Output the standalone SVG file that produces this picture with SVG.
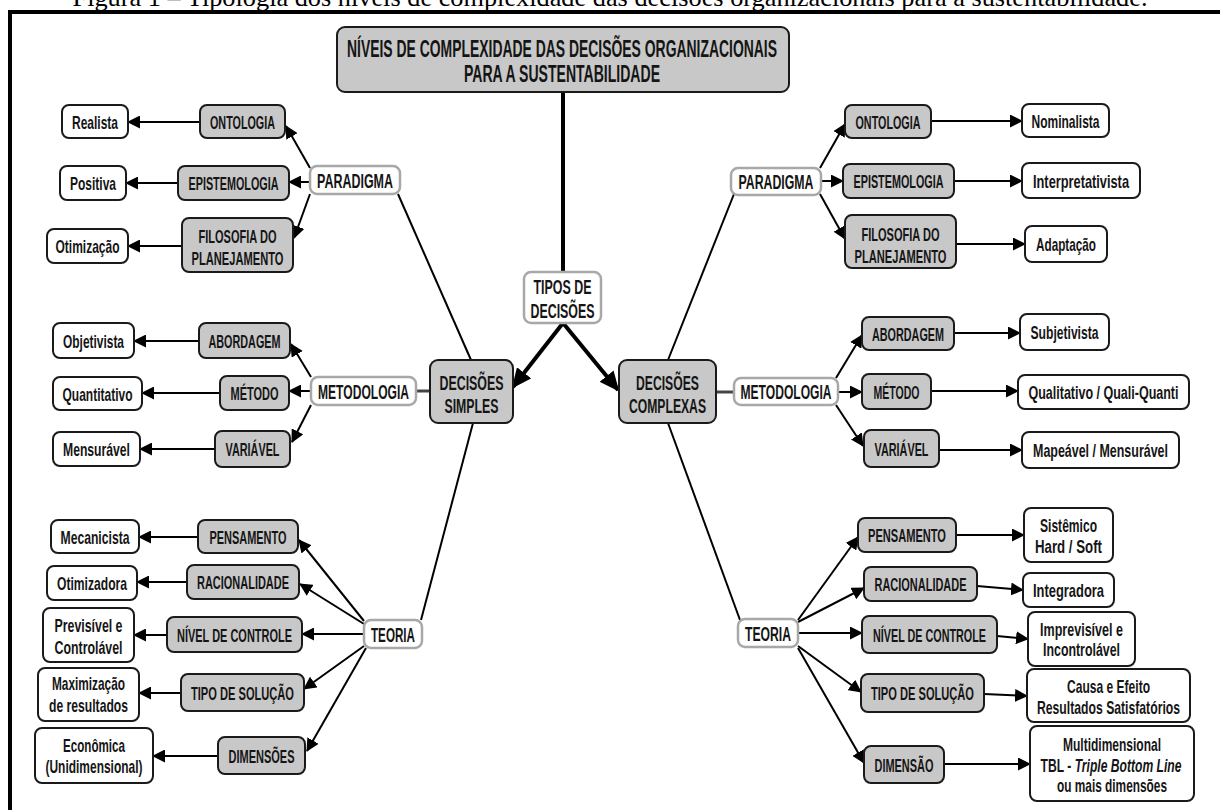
<svg xmlns="http://www.w3.org/2000/svg" width="1220" height="810" viewBox="0 0 1220 810">
<defs>
<style>
.gray{fill:#c8c8c8;stroke:#1a1a1a;stroke-width:2}
.leaf{fill:#ffffff;stroke:#1a1a1a;stroke-width:2}
.hub{fill:#ffffff;stroke:#a8a8a8;stroke-width:2.5}
text{font-family:"Liberation Sans Narrow","Liberation Sans","DejaVu Sans Condensed",sans-serif;font-weight:bold;fill:#151515;text-anchor:middle}
.t{font-size:19px}
.tl{font-size:21px}
.tt{font-size:24px}
.cap{font-family:"Liberation Serif","Times New Roman",serif;font-weight:normal;font-size:26px;fill:#000}
.ln{stroke:#000;stroke-width:2;fill:none}
.ar{stroke:#000;stroke-width:2;fill:none;marker-end:url(#ah)}
.thick{stroke:#000;stroke-width:4;fill:none}
.tar{stroke:#000;stroke-width:4;fill:none;marker-end:url(#ahb)}
.con{stroke:#444;stroke-width:3;fill:none}
</style>
<marker id="ah" markerUnits="userSpaceOnUse" markerWidth="13" markerHeight="13" refX="12" refY="6.5" orient="auto"><path d="M0,0 L13,6.5 L0,13 z" fill="#000"/></marker>
<marker id="ahb" markerUnits="userSpaceOnUse" markerWidth="20" markerHeight="18" refX="18" refY="9" orient="auto"><path d="M0,0 L20,9 L0,18 z" fill="#000"/></marker>
</defs>
<rect x="0" y="0" width="1220" height="810" fill="#fff"/>
<text class="cap" x="610" y="6" textLength="1075" lengthAdjust="spacingAndGlyphs">Figura 1 – Tipologia dos níveis de complexidade das decisões organizacionais para a sustentabilidade.</text>
<g id="frame">
<path d="M8,12 L1220,12" stroke="#000" stroke-width="4"/>
<path d="M10,10 L10,810" stroke="#000" stroke-width="4"/>
</g>

<g id="connectors">
<path class="thick" d="M563,92 L563,272"/>
<path class="tar" d="M563,323 L513,387"/>
<path class="tar" d="M563,323 L618,390"/>
<path class="ln" d="M398,194 L471,360"/>
<path class="ln" d="M473,423 L421,620"/>
<path class="ln" d="M734,194 L668,360"/>
<path class="ln" d="M668,423 L740,620"/>
<path class="con" d="M416,391 L430,391"/>
<path class="con" d="M716,392 L734,392"/>
<path class="ar" d="M310,168 L286,126"/>
<path class="ar" d="M310,182 L289,182"/>
<path class="ar" d="M310,194 L294,238"/>
<path class="ar" d="M200,122 L128,122"/>
<path class="ar" d="M178,183 L126,183"/>
<path class="ar" d="M182,246 L128,246"/>
<path class="ar" d="M820,168 L845,124"/>
<path class="ar" d="M821,181 L843,181"/>
<path class="ar" d="M820,194 L845,239"/>
<path class="ar" d="M931,121 L1022,121"/>
<path class="ar" d="M954,181 L1022,181"/>
<path class="ar" d="M956,244 L1025,244"/>
<path class="ar" d="M311,377 L291,344"/>
<path class="ar" d="M311,391 L289,391"/>
<path class="ar" d="M311,405 L292,442"/>
<path class="ar" d="M199,341 L134,341"/>
<path class="ar" d="M220,393 L142,393"/>
<path class="ar" d="M215,449 L140,449"/>
<path class="ar" d="M836,378 L862,335"/>
<path class="ar" d="M838,392 L862,392"/>
<path class="ar" d="M836,405 L863,446"/>
<path class="ar" d="M954,333 L1020,333"/>
<path class="ar" d="M931,391 L1018,391"/>
<path class="ar" d="M939,450 L1022,450"/>
<path class="ar" d="M364,621 L299,540"/>
<path class="ar" d="M364,624 L300,584"/>
<path class="ar" d="M364,634 L302,634"/>
<path class="ar" d="M364,646 L304,689"/>
<path class="ar" d="M366,648 L307,751"/>
<path class="ar" d="M198,537 L139,537"/>
<path class="ar" d="M187,582 L137,582"/>
<path class="ar" d="M167,635 L134,635"/>
<path class="ar" d="M181,693 L139,693"/>
<path class="ar" d="M218,756 L153,756"/>
<path class="ar" d="M798,620 L858,537"/>
<path class="ar" d="M798,622 L864,588"/>
<path class="ar" d="M798,633 L862,633"/>
<path class="ar" d="M798,646 L861,692"/>
<path class="ar" d="M798,648 L864,763"/>
<path class="ar" d="M956,535 L1024,535"/>
<path class="ar" d="M977,586 L1023,590"/>
<path class="ar" d="M997,636 L1028,639"/>
<path class="ar" d="M984,694 L1027,696"/>
<path class="ar" d="M944,764 L1030,764"/>
</g>

<g id="title"><rect class="gray" x="337" y="27" width="452" height="65" rx="8"/>
<text class="tt" x="562" y="57" textLength="430" lengthAdjust="spacingAndGlyphs">NÍVEIS DE COMPLEXIDADE DAS DECISÕES ORGANIZACIONAIS</text>
<text class="tt" x="562" y="82" textLength="196" lengthAdjust="spacingAndGlyphs">PARA A SUSTENTABILIDADE</text></g>

<g id="tipos"><rect class="hub" x="524" y="272" width="77" height="51" rx="7"/>
<text class="tl" x="562.5" y="294" textLength="58" lengthAdjust="spacingAndGlyphs">TIPOS DE</text>
<text class="tl" x="562.5" y="318" textLength="64" lengthAdjust="spacingAndGlyphs">DECISÕES</text></g>

<g id="dec-simples"><rect class="gray" x="430" y="360" width="83" height="63" rx="8"/>
<text class="tl" x="471.5" y="390" textLength="64" lengthAdjust="spacingAndGlyphs">DECISÕES</text>
<text class="tl" x="471.5" y="413" textLength="54" lengthAdjust="spacingAndGlyphs">SIMPLES</text></g>

<g id="dec-complexas"><rect class="gray" x="619" y="360" width="97" height="63" rx="8"/>
<text class="tl" x="667.5" y="390" textLength="63" lengthAdjust="spacingAndGlyphs">DECISÕES</text>
<text class="tl" x="667.5" y="413" textLength="77" lengthAdjust="spacingAndGlyphs">COMPLEXAS</text></g>

<g id="paradigma-l"><rect class="hub" x="310" y="166" width="90" height="28" rx="7"/>
<text class="tl" x="355" y="187.5" textLength="76" lengthAdjust="spacingAndGlyphs">PARADIGMA</text></g>
<g id="ontologia-l"><rect class="gray" x="200" y="105" width="85" height="33" rx="7"/>
<text class="t" x="242.5" y="128.5" textLength="65" lengthAdjust="spacingAndGlyphs">ONTOLOGIA</text></g>
<g id="realista"><rect class="leaf" x="62" y="105" width="66" height="33" rx="7"/>
<text class="t" x="95" y="128.5" textLength="46" lengthAdjust="spacingAndGlyphs">Realista</text></g>
<g id="epistemologia-l"><rect class="gray" x="178" y="166" width="111" height="34" rx="7"/>
<text class="t" x="233.5" y="190" textLength="90" lengthAdjust="spacingAndGlyphs">EPISTEMOLOGIA</text></g>
<g id="positiva"><rect class="leaf" x="60" y="166" width="66" height="34" rx="7"/>
<text class="t" x="93" y="190" textLength="46" lengthAdjust="spacingAndGlyphs">Positiva</text></g>
<g id="filosofia-l"><rect class="gray" x="182" y="218" width="111" height="54" rx="7"/>
<text class="t" x="237.5" y="242.5" textLength="78" lengthAdjust="spacingAndGlyphs">FILOSOFIA DO</text>
<text class="t" x="237.5" y="264.5" textLength="92" lengthAdjust="spacingAndGlyphs">PLANEJAMENTO</text></g>
<g id="otimizacao"><rect class="leaf" x="47" y="229" width="81" height="34" rx="7"/>
<text class="t" x="87.5" y="253" textLength="64" lengthAdjust="spacingAndGlyphs">Otimização</text></g>

<g id="paradigma-r"><rect class="hub" x="731" y="168" width="90" height="27" rx="7"/>
<text class="tl" x="776" y="188.5" textLength="75" lengthAdjust="spacingAndGlyphs">PARADIGMA</text></g>
<g id="ontologia-r"><rect class="gray" x="845" y="105" width="86" height="33" rx="7"/>
<text class="t" x="888" y="128.5" textLength="65" lengthAdjust="spacingAndGlyphs">ONTOLOGIA</text></g>
<g id="nominalista"><rect class="leaf" x="1022" y="104" width="87" height="33" rx="7"/>
<text class="t" x="1065.5" y="127.5" textLength="68" lengthAdjust="spacingAndGlyphs">Nominalista</text></g>
<g id="epistemologia-r"><rect class="gray" x="843" y="164" width="111" height="34" rx="7"/>
<text class="t" x="898.5" y="188" textLength="90" lengthAdjust="spacingAndGlyphs">EPISTEMOLOGIA</text></g>
<g id="interpretativista"><rect class="leaf" x="1022" y="163" width="118" height="35" rx="7"/>
<text class="t" x="1081" y="187.5" textLength="96" lengthAdjust="spacingAndGlyphs">Interpretativista</text></g>
<g id="filosofia-r"><rect class="gray" x="845" y="215" width="111" height="53" rx="7"/>
<text class="t" x="900.5" y="240.5" textLength="78" lengthAdjust="spacingAndGlyphs">FILOSOFIA DO</text>
<text class="t" x="900.5" y="262.5" textLength="92" lengthAdjust="spacingAndGlyphs">PLANEJAMENTO</text></g>
<g id="adaptacao"><rect class="leaf" x="1025" y="226" width="82" height="36" rx="7"/>
<text class="t" x="1066" y="251" textLength="60" lengthAdjust="spacingAndGlyphs">Adaptação</text></g>

<g id="metodologia-l"><rect class="hub" x="311" y="377" width="105" height="28" rx="7"/>
<text class="tl" x="363.5" y="398.5" textLength="91" lengthAdjust="spacingAndGlyphs">METODOLOGIA</text></g>
<g id="abordagem-l"><rect class="gray" x="199" y="323" width="91" height="35" rx="7"/>
<text class="t" x="244.5" y="347.5" textLength="72" lengthAdjust="spacingAndGlyphs">ABORDAGEM</text></g>
<g id="objetivista"><rect class="leaf" x="53" y="323" width="81" height="35" rx="7"/>
<text class="t" x="93.5" y="347.5" textLength="61" lengthAdjust="spacingAndGlyphs">Objetivista</text></g>
<g id="metodo-l"><rect class="gray" x="220" y="376" width="69" height="34" rx="7"/>
<text class="t" x="254.5" y="400" textLength="48" lengthAdjust="spacingAndGlyphs">MÉTODO</text></g>
<g id="quantitativo"><rect class="leaf" x="53" y="377" width="89" height="33" rx="7"/>
<text class="t" x="97.5" y="400.5" textLength="70" lengthAdjust="spacingAndGlyphs">Quantitativo</text></g>
<g id="variavel-l"><rect class="gray" x="215" y="431" width="75" height="36" rx="7"/>
<text class="t" x="252.5" y="456" textLength="54" lengthAdjust="spacingAndGlyphs">VARIÁVEL</text></g>
<g id="mensuravel"><rect class="leaf" x="53" y="432" width="87" height="34" rx="7"/>
<text class="t" x="96.5" y="456" textLength="67" lengthAdjust="spacingAndGlyphs">Mensurável</text></g>

<g id="metodologia-r"><rect class="hub" x="734" y="378" width="104" height="27" rx="7"/>
<text class="tl" x="786" y="399" textLength="91" lengthAdjust="spacingAndGlyphs">METODOLOGIA</text></g>
<g id="abordagem-r"><rect class="gray" x="862" y="317" width="92" height="33" rx="7"/>
<text class="t" x="908" y="340.5" textLength="72" lengthAdjust="spacingAndGlyphs">ABORDAGEM</text></g>
<g id="subjetivista"><rect class="leaf" x="1020" y="314" width="89" height="36" rx="7"/>
<text class="t" x="1064.5" y="339" textLength="68" lengthAdjust="spacingAndGlyphs">Subjetivista</text></g>
<g id="metodo-r"><rect class="gray" x="862" y="374" width="69" height="35" rx="7"/>
<text class="t" x="896.5" y="398.5" textLength="46" lengthAdjust="spacingAndGlyphs">MÉTODO</text></g>
<g id="qualitativo"><rect class="leaf" x="1018" y="375" width="171" height="34" rx="7"/>
<text class="t" x="1103.5" y="399" textLength="150" lengthAdjust="spacingAndGlyphs">Qualitativo / Quali-Quanti</text></g>
<g id="variavel-r"><rect class="gray" x="864" y="430" width="75" height="37" rx="7"/>
<text class="t" x="901.5" y="455.5" textLength="54" lengthAdjust="spacingAndGlyphs">VARIÁVEL</text></g>
<g id="mapeavel"><rect class="leaf" x="1022" y="432" width="157" height="36" rx="7"/>
<text class="t" x="1100.5" y="457" textLength="135" lengthAdjust="spacingAndGlyphs">Mapeável / Mensurável</text></g>

<g id="teoria-l"><rect class="hub" x="364" y="620" width="58" height="28" rx="7"/>
<text class="tl" x="393" y="641.5" textLength="44" lengthAdjust="spacingAndGlyphs">TEORIA</text></g>
<g id="pensamento-l"><rect class="gray" x="198" y="520" width="100" height="33" rx="7"/>
<text class="t" x="248" y="543.5" textLength="77" lengthAdjust="spacingAndGlyphs">PENSAMENTO</text></g>
<g id="mecanicista"><rect class="leaf" x="51" y="520" width="88" height="33" rx="7"/>
<text class="t" x="95" y="543.5" textLength="69" lengthAdjust="spacingAndGlyphs">Mecanicista</text></g>
<g id="racionalidade-l"><rect class="gray" x="187" y="565" width="112" height="34" rx="7"/>
<text class="t" x="243" y="589" textLength="92" lengthAdjust="spacingAndGlyphs">RACIONALIDADE</text></g>
<g id="otimizadora"><rect class="leaf" x="47" y="566" width="90" height="34" rx="7"/>
<text class="t" x="92" y="590" textLength="70" lengthAdjust="spacingAndGlyphs">Otimizadora</text></g>
<g id="nivel-l"><rect class="gray" x="167" y="617" width="135" height="35" rx="7"/>
<text class="t" x="234.5" y="641.5" textLength="115" lengthAdjust="spacingAndGlyphs">NÍVEL DE CONTROLE</text></g>
<g id="previsivel"><rect class="leaf" x="43" y="608" width="91" height="54" rx="7"/>
<text class="t" x="88.5" y="631.5" textLength="68" lengthAdjust="spacingAndGlyphs">Previsível e</text>
<text class="t" x="88.5" y="653.5" textLength="68" lengthAdjust="spacingAndGlyphs">Controlável</text></g>
<g id="tipo-l"><rect class="gray" x="181" y="674" width="123" height="37" rx="7"/>
<text class="t" x="242.5" y="699.5" textLength="103" lengthAdjust="spacingAndGlyphs">TIPO DE SOLUÇÃO</text></g>
<g id="maximizacao"><rect class="leaf" x="38" y="668" width="101" height="53" rx="7"/>
<text class="t" x="88.5" y="689.5" textLength="73" lengthAdjust="spacingAndGlyphs">Maximização</text>
<text class="t" x="88.5" y="711.5" textLength="79" lengthAdjust="spacingAndGlyphs">de resultados</text></g>
<g id="dimensoes"><rect class="gray" x="218" y="737" width="87" height="37" rx="7"/>
<text class="t" x="261.5" y="762.5" textLength="66" lengthAdjust="spacingAndGlyphs">DIMENSÕES</text></g>
<g id="economica"><rect class="leaf" x="35" y="728" width="118" height="55" rx="7"/>
<text class="t" x="94" y="751.5" textLength="62" lengthAdjust="spacingAndGlyphs">Econômica</text>
<text class="t" x="94" y="772.5" textLength="97" lengthAdjust="spacingAndGlyphs">(Unidimensional)</text></g>

<g id="teoria-r"><rect class="hub" x="738" y="619" width="60" height="28" rx="7"/>
<text class="tl" x="768" y="640.5" textLength="46" lengthAdjust="spacingAndGlyphs">TEORIA</text></g>
<g id="pensamento-r"><rect class="gray" x="858" y="518" width="98" height="34" rx="7"/>
<text class="t" x="907" y="542" textLength="78" lengthAdjust="spacingAndGlyphs">PENSAMENTO</text></g>
<g id="sistemico"><rect class="leaf" x="1024" y="508" width="89" height="54" rx="7"/>
<text class="t" x="1068.5" y="531.5" textLength="57" lengthAdjust="spacingAndGlyphs">Sistêmico</text>
<text class="t" x="1068.5" y="552.5" textLength="67" lengthAdjust="spacingAndGlyphs">Hard / Soft</text></g>
<g id="racionalidade-r"><rect class="gray" x="864" y="567" width="113" height="34" rx="7"/>
<text class="t" x="920.5" y="591" textLength="92" lengthAdjust="spacingAndGlyphs">RACIONALIDADE</text></g>
<g id="integradora"><rect class="leaf" x="1023" y="573" width="91" height="34" rx="7"/>
<text class="t" x="1068.5" y="596.5" textLength="71" lengthAdjust="spacingAndGlyphs">Integradora</text></g>
<g id="nivel-r"><rect class="gray" x="862" y="616" width="135" height="37" rx="7"/>
<text class="t" x="929.5" y="641.5" textLength="113" lengthAdjust="spacingAndGlyphs">NÍVEL DE CONTROLE</text></g>
<g id="imprevisivel"><rect class="leaf" x="1028" y="612" width="107" height="54" rx="7"/>
<text class="t" x="1081.5" y="635.5" textLength="83" lengthAdjust="spacingAndGlyphs">Imprevisível e</text>
<text class="t" x="1081.5" y="655.5" textLength="77" lengthAdjust="spacingAndGlyphs">Incontrolável</text></g>
<g id="tipo-r"><rect class="gray" x="861" y="674" width="123" height="38" rx="7"/>
<text class="t" x="922.5" y="700" textLength="103" lengthAdjust="spacingAndGlyphs">TIPO DE SOLUÇÃO</text></g>
<g id="causa"><rect class="leaf" x="1027" y="669" width="163" height="53" rx="7"/>
<text class="t" x="1108.5" y="692.5" textLength="83" lengthAdjust="spacingAndGlyphs">Causa e Efeito</text>
<text class="t" x="1108.5" y="713.5" textLength="143" lengthAdjust="spacingAndGlyphs">Resultados Satisfatórios</text></g>
<g id="dimensao"><rect class="gray" x="864" y="746" width="80" height="37" rx="7"/>
<text class="t" x="904" y="771.5" textLength="59" lengthAdjust="spacingAndGlyphs">DIMENSÃO</text></g>
<g id="multidimensional"><rect class="leaf" x="1030" y="726" width="164" height="75" rx="7"/>
<text class="t" x="1112" y="750.5" textLength="98" lengthAdjust="spacingAndGlyphs">Multidimensional</text>
<text class="t" x="1111" y="771.5" textLength="141" lengthAdjust="spacingAndGlyphs">TBL - <tspan font-style="italic">Triple Bottom Line</tspan></text>
<text class="t" x="1112" y="791.5" textLength="110" lengthAdjust="spacingAndGlyphs">ou mais dimensões</text></g>
</svg>
